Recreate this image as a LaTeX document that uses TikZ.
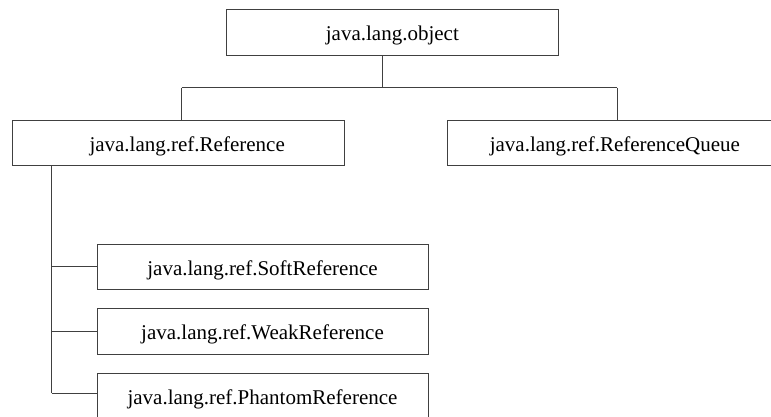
\documentclass[tikz,border=0pt]{standalone}
\usepackage{fontspec}
\setmainfont{Liberation Serif}
\begin{document}
\begin{tikzpicture}[x=1pt,y=1pt,
  classbox/.style={draw=black!75, line width=1pt, fill=white, inner sep=0pt,
    font=\fontsize{21}{25}\selectfont, text height=20pt, text depth=3pt},
  link/.style={draw=black!75, line width=1pt}]
  \useasboundingbox (0,0) rectangle (771,-416);
  \clip (0,0) rectangle (771,-416);

  % class boxes
  \node[classbox, minimum width=331.3pt, minimum height=45.3pt] (top)     at (392.35,-32.35) {java.lang.object};
  \node[classbox, minimum width=331.7pt, minimum height=44.3pt] (ref)     at (178.15,-142.85) {\hspace*{18pt}java.lang.ref.Reference};
  \node[classbox, minimum width=334.3pt, minimum height=44.3pt] (queue)   at (614.85,-142.85) {java.lang.ref.ReferenceQueue};
  \node[classbox, minimum width=331pt, minimum height=45pt]     (soft)    at (262.5,-266.5) {java.lang.ref.SoftReference};
  \node[classbox, minimum width=331pt, minimum height=45.5pt]   (weak)    at (262.5,-331.25) {java.lang.ref.WeakReference};
  \node[classbox, minimum width=331pt, minimum height=45.5pt]   (phantom) at (262.5,-396) {java.lang.ref.PhantomReference};

  % inheritance from java.lang.object
  \coordinate (jn)   at (382.7,-87.7);
  \coordinate (busL) at (181.7,-87.7);
  \coordinate (busR) at (617,-87.7);
  \draw[link] (jn |- top.south) -- (jn);
  \draw[link] (busL) -- (busR);
  \draw[link] (busL) -- (busL |- ref.north);
  \draw[link] (busR) -- (busR |- queue.north);

  % subclasses of Reference
  \coordinate (sp) at (51.7,-393);
  \draw[link] (sp |- ref.south) -- (sp);
  \draw[link] (sp |- soft.west) -- (soft.west);
  \draw[link] (sp |- weak.west) -- (weak.west);
  \draw[link] (sp) -- (sp -| phantom.west);
\end{tikzpicture}
\end{document}
